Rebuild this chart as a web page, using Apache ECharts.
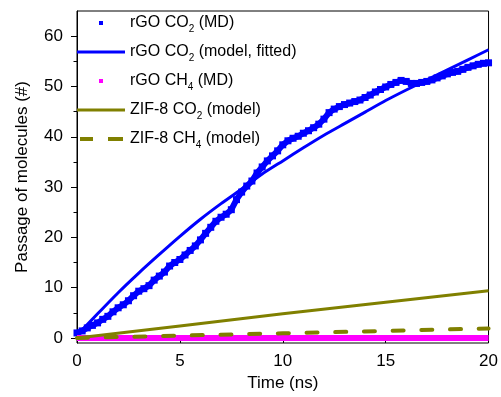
<!DOCTYPE html>
<html>
<head>
<meta charset="utf-8">
<script src="https://cdn.jsdelivr.net/npm/echarts@6/dist/echarts.min.js"></script>
<style>
html,body{margin:0;padding:0;background:#fff;}
#chart{width:501px;height:397px;}
</style>
</head>
<body>
<div id="chart"></div>
<script>
// ---- Data ----
var mdTime = [0,0.25,0.5,0.75,1,1.25,1.5,1.75,2,2.25,2.5,2.75,3,3.25,3.5,3.75,4,4.25,4.5,4.75,5,5.25,5.5,5.75,6,6.25,6.5,6.75,7,7.25,7.5,7.75,8,8.25,8.5,8.75,9,9.25,9.5,9.75,10,10.25,10.5,10.75,11,11.25,11.5,11.75,12,12.25,12.5,12.75,13,13.25,13.5,13.75,14,14.25,14.5,14.75,15,15.25,15.5,15.75,16,16.25,16.5,16.75,17,17.25,17.5,17.75,18,18.25,18.5,18.75,19,19.25,19.5,19.75,20];
var mdCO2 = [1.0,1.4,2.0,2.5,3.0,3.7,4.3,5.2,6.0,6.6,7.4,8.4,9.3,9.8,10.4,11.5,12.3,13.1,14.3,15.0,15.6,16.5,17.4,18.3,19.5,20.8,22.0,23.2,24.0,24.6,25.5,27.5,29.0,30.2,31.2,32.8,34.0,35.2,36.2,37.2,38.4,39.2,39.7,40.1,40.7,41.2,41.8,42.5,43.5,44.8,45.5,46.0,46.4,46.7,47.0,47.3,47.8,48.3,48.9,49.4,49.9,50.4,50.8,51.2,51.0,50.6,50.6,50.8,51.0,51.3,51.7,52.1,52.5,52.8,53.0,53.4,53.8,54.1,54.4,54.6,54.7];

var fitTime = [0,1,2,3,4,5,6,7,8,9,10,11,12,13,14,15,16,17,18,19,20];
var fitCO2 = [0.5,4.8,9.0,12.9,16.6,20.2,23.6,26.7,29.6,32.6,35.2,37.8,40.3,42.6,44.9,47.2,49.3,51.3,53.3,55.3,57.3];

var ch4Time = [0,2,4,6,8,10,12,14,16,18,20];
var mdCH4 = [0,0,0,0,0,0,0,0,0,0,0];

var zifTime = [0,5,10,15,20];
var zifCO2 = [0,2.4,4.8,7.1,9.4];
var zifCH4 = [0,0.47,0.93,1.4,1.9];

var seriesNames = ['rGO CO2 (MD)','rGO CO2 (model, fitted)','rGO CH4 (MD)','ZIF-8 CO2 (model)','ZIF-8 CH4 (model)'];
var yMajorTicks = [0,10,20,30,40,50,60];
var yMinorTicks = [5,15,25,35,45,55];

// ---- helpers ----
function pairs(xs, ys){ return xs.map(function(x,i){ return [x, ys[i]]; }); }

var BLUE = '#0000ff', MAGENTA = '#ff00ff', OLIVE = '#808000';
var FONT = 'Liberation Sans, Arial, Helvetica, sans-serif';

var iconSquare = 'path://M0,0M48,14M22,5h4v4h-4z';
var iconLine = 'path://M0,0M48,14M0,5.5h48v3h-48z';
var iconDash = 'path://M0,0M48,14M3,5h13v4h-13zM31,5h15v4h-15z';

function richName(name){
  return name.replace(/(CO|CH)(\d)/, '$1{s|$2}');
}

var chart = echarts.init(document.getElementById('chart'), null, {renderer:'canvas'});
chart.setOption({
  animation: false,
  backgroundColor: '#fff',
  textStyle: {fontFamily: FONT},
  grid: {left: 77, right: 12, top: 11, bottom: 54, show: true, borderColor: '#000', borderWidth: 1, backgroundColor: 'transparent'},
  legend: {
    orient: 'vertical', left: 77, top: 12, padding: 0,
    itemWidth: 48, itemHeight: 14, itemGap: 7,
    selectedMode: false,
    textStyle: {fontSize: 16, color: '#000', fontFamily: FONT, lineHeight: 22,
      rich: {s: {fontSize: 10, lineHeight: 10, verticalAlign: 'bottom', color: '#000', fontFamily: FONT}}},
    itemStyle: {borderWidth: 0},
    formatter: richName,
    data: [
      {name: seriesNames[0], icon: iconSquare, itemStyle: {color: BLUE, borderWidth: 0}},
      {name: seriesNames[1], icon: iconLine, itemStyle: {color: BLUE, borderWidth: 0}},
      {name: seriesNames[2], icon: iconSquare, itemStyle: {color: MAGENTA, borderWidth: 0}},
      {name: seriesNames[3], icon: iconLine, itemStyle: {color: OLIVE, borderWidth: 0}},
      {name: seriesNames[4], icon: iconDash, itemStyle: {color: OLIVE, borderWidth: 0}}
    ]
  },
  xAxis: {
    type: 'value', min: 0, max: 20, interval: 5,
    name: 'Time (ns)', nameLocation: 'middle', nameGap: 30,
    nameTextStyle: {fontSize: 17, color: '#000', fontFamily: FONT},
    axisLine: {show: true, lineStyle: {color: '#000', width: 1}},
    axisTick: {show: true, inside: false, length: 5, lineStyle: {color: '#000', width: 1}},
    minorTick: {show: true, splitNumber: 2, length: 3, lineStyle: {color: '#000', width: 1}},
    axisLabel: {fontSize: 17, color: '#000', margin: 10, fontFamily: FONT},
    splitLine: {show: false}, minorSplitLine: {show: false}
  },
  yAxis: [{
    type: 'value', min: -1, max: 65, position: 'left',
    name: 'Passage of molecules (#)', nameLocation: 'middle', nameGap: 46, nameRotate: 90,
    nameTextStyle: {fontSize: 17, color: '#000', fontFamily: FONT},
    axisLine: {show: true, onZero: false, lineStyle: {color: '#000', width: 1}},
    axisTick: {show: true, inside: false, length: 6, customValues: yMajorTicks, lineStyle: {color: '#000', width: 1}},
    axisLabel: {fontSize: 17, color: '#000', margin: 14, customValues: yMajorTicks, fontFamily: FONT},
    splitLine: {show: false}
  }, {
    type: 'value', min: -1, max: 65, position: 'left',
    axisLine: {show: false},
    axisTick: {show: true, inside: false, length: 3.5, customValues: yMinorTicks, lineStyle: {color: '#000', width: 1}},
    axisLabel: {show: false},
    splitLine: {show: false}
  }],
  series: [
    {name: seriesNames[0], type: 'line', data: pairs(mdTime, mdCO2), color: BLUE,
     symbol: 'rect', symbolSize: 7, showSymbol: true, showAllSymbol: true,
     itemStyle: {color: BLUE, borderWidth: 0}, lineStyle: {color: BLUE, width: 6}, z: 2},
    {name: seriesNames[1], type: 'line', data: pairs(fitTime, fitCO2), color: BLUE, smooth: 0.2,
     showSymbol: false, lineStyle: {color: BLUE, width: 3}, z: 3},
    {name: seriesNames[2], type: 'line', data: pairs(ch4Time, mdCH4), color: MAGENTA,
     showSymbol: false, lineStyle: {color: MAGENTA, width: 6}, z: 3},
    {name: seriesNames[3], type: 'line', data: pairs(zifTime, zifCO2), color: OLIVE,
     showSymbol: false, lineStyle: {color: OLIVE, width: 3}, z: 4},
    {name: seriesNames[4], type: 'line', data: pairs(zifTime, zifCH4), color: OLIVE,
     showSymbol: false, lineStyle: {color: OLIVE, width: 4, type: [11, 17.7], cap: 'round'}, z: 4}
  ]
});
</script>
</body>
</html>
